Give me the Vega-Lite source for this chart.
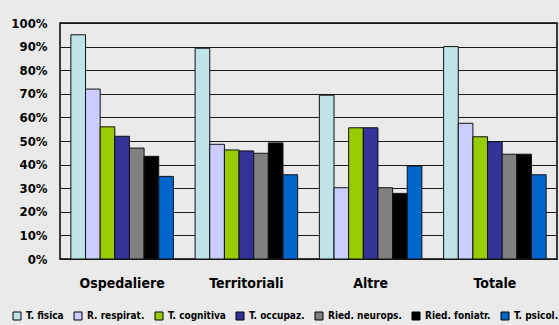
{
  "$schema": "https://vega.github.io/schema/vega-lite/v6.json",
  "width": 497,
  "height": 236,
  "autosize": {"type": "none"},
  "padding": {"left": 60, "top": 23, "right": 2, "bottom": 66},
  "background": "#EAEAEA",
  "data": {
    "values": [
      {"struttura": "Ospedaliere", "terapia": "T. fisica", "valore": 0.95},
      {"struttura": "Ospedaliere", "terapia": "R. respirat.", "valore": 0.72},
      {"struttura": "Ospedaliere", "terapia": "T. cognitiva", "valore": 0.56},
      {"struttura": "Ospedaliere", "terapia": "T. occupaz.", "valore": 0.52},
      {"struttura": "Ospedaliere", "terapia": "Ried. neurops.", "valore": 0.47},
      {"struttura": "Ospedaliere", "terapia": "Ried. foniatr.", "valore": 0.435},
      {"struttura": "Ospedaliere", "terapia": "T. psicol.", "valore": 0.35},
      {"struttura": "Territoriali", "terapia": "T. fisica", "valore": 0.893},
      {"struttura": "Territoriali", "terapia": "R. respirat.", "valore": 0.486},
      {"struttura": "Territoriali", "terapia": "T. cognitiva", "valore": 0.462},
      {"struttura": "Territoriali", "terapia": "T. occupaz.", "valore": 0.458},
      {"struttura": "Territoriali", "terapia": "Ried. neurops.", "valore": 0.448},
      {"struttura": "Territoriali", "terapia": "Ried. foniatr.", "valore": 0.492},
      {"struttura": "Territoriali", "terapia": "T. psicol.", "valore": 0.357},
      {"struttura": "Altre", "terapia": "T. fisica", "valore": 0.694},
      {"struttura": "Altre", "terapia": "R. respirat.", "valore": 0.302},
      {"struttura": "Altre", "terapia": "T. cognitiva", "valore": 0.556},
      {"struttura": "Altre", "terapia": "T. occupaz.", "valore": 0.556},
      {"struttura": "Altre", "terapia": "Ried. neurops.", "valore": 0.302},
      {"struttura": "Altre", "terapia": "Ried. foniatr.", "valore": 0.278},
      {"struttura": "Altre", "terapia": "T. psicol.", "valore": 0.394},
      {"struttura": "Totale", "terapia": "T. fisica", "valore": 0.90},
      {"struttura": "Totale", "terapia": "R. respirat.", "valore": 0.575},
      {"struttura": "Totale", "terapia": "T. cognitiva", "valore": 0.518},
      {"struttura": "Totale", "terapia": "T. occupaz.", "valore": 0.497},
      {"struttura": "Totale", "terapia": "Ried. neurops.", "valore": 0.444},
      {"struttura": "Totale", "terapia": "Ried. foniatr.", "valore": 0.444},
      {"struttura": "Totale", "terapia": "T. psicol.", "valore": 0.357}
    ]
  },
  "mark": {"type": "bar", "stroke": "#111111", "strokeWidth": 1},
  "encoding": {
    "x": {
      "field": "struttura",
      "type": "nominal",
      "sort": ["Ospedaliere", "Territoriali", "Altre", "Totale"],
      "scale": {"paddingInner": 0.175, "paddingOuter": 0.0875},
      "axis": {
        "title": null,
        "labelAngle": 0,
        "labelFont": "DejaVu Sans Condensed",
        "labelFontWeight": "bold",
        "labelFontSize": 14,
        "labelColor": "#000000",
        "labelPadding": 17,
        "ticks": false,
        "domain": false
      }
    },
    "xOffset": {
      "field": "terapia",
      "type": "nominal",
      "sort": ["T. fisica", "R. respirat.", "T. cognitiva", "T. occupaz.", "Ried. neurops.", "Ried. foniatr.", "T. psicol."],
      "scale": {"paddingInner": 0, "paddingOuter": 0}
    },
    "y": {
      "field": "valore",
      "type": "quantitative",
      "scale": {"domain": [0, 1], "nice": false},
      "axis": {
        "title": null,
        "format": ".0%",
        "values": [0, 0.1, 0.2, 0.3, 0.4, 0.5, 0.6, 0.7, 0.8, 0.9, 1],
        "labelFont": "DejaVu Sans Condensed",
        "labelFontWeight": "bold",
        "labelFontSize": 13,
        "labelColor": "#000000",
        "labelPadding": 13,
        "ticks": false,
        "domain": false,
        "grid": true,
        "gridColor": "#1a1a1a",
        "gridWidth": 1,
        "gridOpacity": 1
      }
    },
    "color": {
      "field": "terapia",
      "type": "nominal",
      "scale": {
        "domain": ["T. fisica", "R. respirat.", "T. cognitiva", "T. occupaz.", "Ried. neurops.", "Ried. foniatr.", "T. psicol."],
        "range": ["#BFE3E6", "#CCCCFF", "#99CC00", "#333399", "#808080", "#000000", "#0066CC"]
      },
      "legend": {
        "title": null,
        "orient": "none",
        "direction": "horizontal",
        "columns": 7,
        "legendX": -48,
        "legendY": 288,
        "symbolType": "square",
        "symbolSize": 64,
        "symbolStrokeColor": "#000000",
        "symbolStrokeWidth": 1,
        "symbolOpacity": 1,
        "labelFont": "DejaVu Sans Condensed",
        "labelFontWeight": "bold",
        "labelFontSize": 10,
        "labelColor": "#000000",
        "labelOffset": 4,
        "columnPadding": 8
      }
    }
  },
  "config": {
    "view": {"stroke": "#000000", "strokeWidth": 1.5, "fill": "#EAEAEA"}
  }
}
